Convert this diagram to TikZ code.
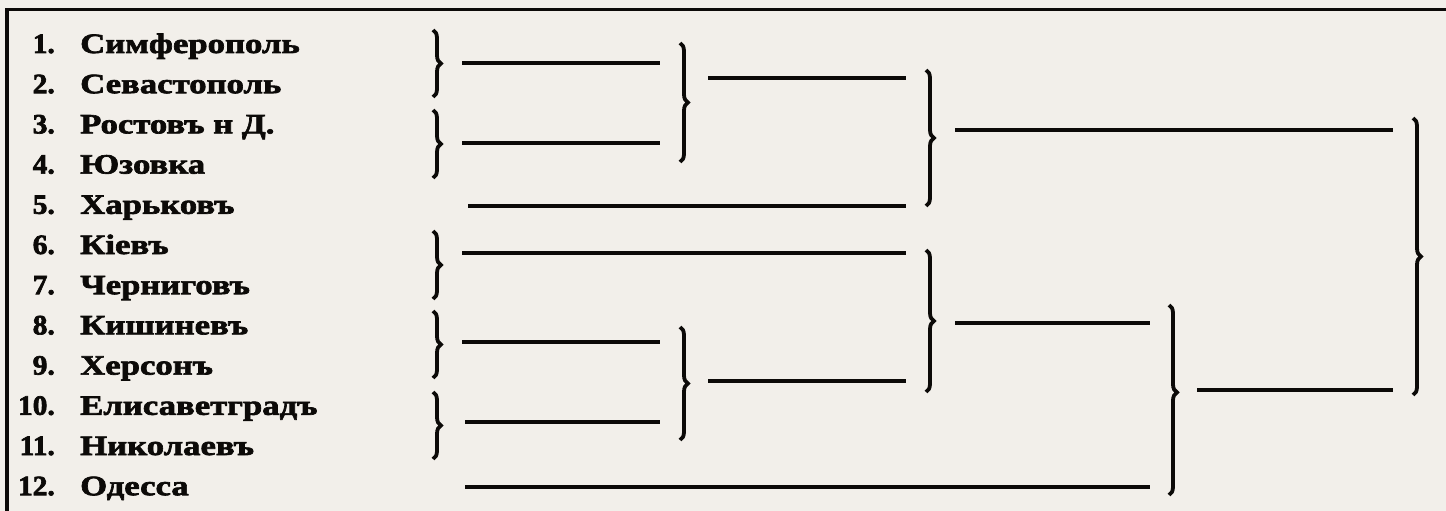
\documentclass[tikz,border=0pt]{standalone}
\usepackage{fontspec}
\newfontfamily\oldfont[FakeStretch=1.24,FakeBold=2.4]{Liberation Serif Bold}
\newfontfamily\numfont[FakeStretch=1.05,FakeBold=2.4]{Liberation Serif Bold}
\usetikzlibrary{decorations.pathreplacing}
\definecolor{paper}{RGB}{242,239,234}
\definecolor{ink}{RGB}{12,10,8}
\begin{document}
\begin{tikzpicture}[x=1pt,y=-1pt,
  lbl/.style={inner sep=0pt,font=\oldfont\fontsize{28}{28}\selectfont,text=ink},
  numlbl/.style={inner sep=0pt,font=\numfont\fontsize{28}{28}\selectfont,text=ink},
  rule/.style={draw=ink,line width=4.5pt},
  brc/.style={draw=ink,line width=3.8pt,decorate,decoration={brace,amplitude=8pt,aspect=#1}},
  brc/.default=0.5]
\fill[paper] (0,0) rectangle (1446,511);
\useasboundingbox (0,0) rectangle (1446,511);
% frame (top and left edges)
\fill[ink] (5,8) rectangle (1446,11.5);
\fill[ink] (5,8) rectangle (9,511);
% labels
\foreach \i/\t in {1/Симферополь,2/Севастополь,3/Ростовъ н Д.,4/Юзовка,5/Харьковъ,6/Кіевъ,7/Черниговъ,8/Кишиневъ,9/Херсонъ,10/Елисаветградъ,11/Николаевъ,12/Одесса}{
  \pgfmathsetmacro\yb{53+40.2*(\i-1)}
  \node[numlbl,anchor=base east] (num\i) at (55,\yb) {\i.};
  \node[lbl,anchor=base west] (name\i) at (80,\yb) {\t};
}
% level 1 braces
\coordinate (a1) at (433,30);  \coordinate (a2) at (433,97);
\coordinate (a3) at (433,110); \coordinate (a4) at (433,178);
\coordinate (a6) at (433,231); \coordinate (a7) at (433,299);
\coordinate (a8) at (433,311); \coordinate (a9) at (433,378);
\coordinate (a10) at (433,392); \coordinate (a11) at (433,459);
\draw[brc] (a1) -- (a2);
\draw[brc] (a3) -- (a4);
\draw[brc] (a6) -- (a7);
\draw[brc] (a8) -- (a9);
\draw[brc] (a10) -- (a11);
% level 1 lines
\coordinate (p12s) at (462,63);  \coordinate (p12e) at (660,63);
\coordinate (p34s) at (462,143); \coordinate (p34e) at (660,143);
\coordinate (p5s) at (468,206);  \coordinate (p5e) at (906,206);
\coordinate (p67s) at (462,253); \coordinate (p67e) at (906,253);
\coordinate (p89s) at (462,342); \coordinate (p89e) at (660,342);
\coordinate (p1011s) at (465,422); \coordinate (p1011e) at (660,422);
\coordinate (p12os) at (465,487); \coordinate (p12oe) at (1150,487);
\draw[rule] (p12s) -- (p12e);
\draw[rule] (p34s) -- (p34e);
\draw[rule] (p5s) -- (p5e);
\draw[rule] (p67s) -- (p67e);
\draw[rule] (p89s) -- (p89e);
\draw[rule] (p1011s) -- (p1011e);
\draw[rule] (p12os) -- (p12oe);
% level 2
\coordinate (b1) at (680,43);  \coordinate (b2) at (680,162);
\coordinate (b3) at (680,327); \coordinate (b4) at (680,440);
\draw[brc] (b1) -- (b2);
\draw[brc] (b3) -- (b4);
\coordinate (q1s) at (708,78);  \coordinate (q1e) at (906,78);
\coordinate (q2s) at (708,381); \coordinate (q2e) at (906,381);
\draw[rule] (q1s) -- (q1e);
\draw[rule] (q2s) -- (q2e);
% level 3
\coordinate (c1) at (926,70);  \coordinate (c2) at (926,206);
\coordinate (c3) at (926,250); \coordinate (c4) at (926,392);
\draw[brc] (c1) -- (c2);
\draw[brc] (c3) -- (c4);
\coordinate (r1s) at (955,130); \coordinate (r1e) at (1393,130);
\coordinate (r2s) at (955,323); \coordinate (r2e) at (1150,323);
\draw[rule] (r1s) -- (r1e);
\draw[rule] (r2s) -- (r2e);
% level 4
\coordinate (d1) at (1169,305); \coordinate (d2) at (1169,495);
\draw[brc=0.46] (d1) -- (d2);
\coordinate (s1s) at (1197,390); \coordinate (s1e) at (1393,390);
\draw[rule] (s1s) -- (s1e);
% final
\coordinate (e1) at (1413,118); \coordinate (e2) at (1413,395);
\draw[brc] (e1) -- (e2);
\end{tikzpicture}
\end{document}
